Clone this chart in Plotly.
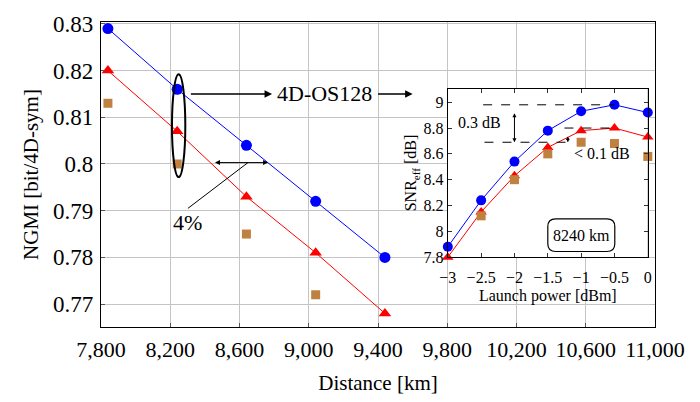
import plotly.graph_objects as go

# ---- main plot data ----
distance_km = [7840, 8240, 8640, 9040, 9440]
ngmi_blue = [0.829, 0.816, 0.804, 0.792, 0.780]
ngmi_red = [0.820, 0.807, 0.793, 0.781, 0.768]
distance_sq = [7840, 8240, 8640, 9040]
ngmi_orange = [0.813, 0.800, 0.785, 0.772]

x_ticks = [7800, 8200, 8600, 9000, 9400, 9800, 10200, 10600, 11000]
y_ticks = [0.77, 0.78, 0.79, 0.80, 0.81, 0.82, 0.83]
y_ticktext = ["0.77", "0.78", "0.79", "0.8", "0.81", "0.82", "0.83"]

# ---- inset data ----
launch_power = [-3, -2.5, -2, -1.5, -1, -0.5, 0]
snr_blue = [7.88, 8.24, 8.54, 8.78, 8.93, 8.98, 8.92]
snr_red = [7.80, 8.15, 8.43, 8.65, 8.78, 8.80, 8.73]
launch_power_sq = [-2.5, -2, -1.5, -1, -0.5, 0]
snr_orange = [8.12, 8.40, 8.60, 8.69, 8.68, 8.58]

inset_x_ticks = [-3, -2.5, -2, -1.5, -1, -0.5, 0]
inset_y_ticks = [7.8, 8.0, 8.2, 8.4, 8.6, 8.8, 9.0]
inset_y_ticktext = ["7.8", "8", "8.2", "8.4", "8.6", "8.8", "9"]

BLUE = "#0000ff"
RED = "#ff0000"
ORANGE = "#c0803f"
FONT = "Liberation Serif"

fig = go.Figure()

# main traces
fig.add_trace(go.Scatter(x=distance_km, y=ngmi_blue, mode="lines+markers",
                         line=dict(color=BLUE, width=1),
                         marker=dict(symbol="circle", size=11, color=BLUE),
                         xaxis="x", yaxis="y", cliponaxis=False))
fig.add_trace(go.Scatter(x=distance_km, y=ngmi_red, mode="lines+markers",
                         line=dict(color=RED, width=1),
                         marker=dict(symbol="triangle-up", size=11, color=RED),
                         xaxis="x", yaxis="y", cliponaxis=False))
fig.add_trace(go.Scatter(x=distance_sq, y=ngmi_orange, mode="markers",
                         marker=dict(symbol="square", size=9, color=ORANGE),
                         xaxis="x", yaxis="y", cliponaxis=False))

# inset traces
fig.add_trace(go.Scatter(x=launch_power, y=snr_blue, mode="lines+markers",
                         line=dict(color=BLUE, width=1),
                         marker=dict(symbol="circle", size=10, color=BLUE),
                         xaxis="x2", yaxis="y2", cliponaxis=False))
fig.add_trace(go.Scatter(x=launch_power, y=snr_red, mode="lines+markers",
                         line=dict(color=RED, width=1),
                         marker=dict(symbol="triangle-up", size=10, color=RED),
                         xaxis="x2", yaxis="y2", cliponaxis=False))
fig.add_trace(go.Scatter(x=launch_power_sq, y=snr_orange, mode="markers",
                         marker=dict(symbol="square", size=9, color=ORANGE),
                         xaxis="x2", yaxis="y2", cliponaxis=False))

shapes = []
annotations = []

# inset background
shapes.append(dict(type="rect", xref="x2 domain", yref="y2 domain", x0=0, x1=1, y0=0, y1=1,
                   fillcolor="#f0f0f0", line=dict(color="black", width=1.2), layer="below"))

# ellipse around 8240 km
shapes.append(dict(type="circle", xref="x", yref="y", x0=8210, x1=8287, y0=0.7972, y1=0.8192,
                   line=dict(color="black", width=2)))
# line to 4% label
shapes.append(dict(type="line", xref="x", yref="y", x0=8302, y0=0.7905, x1=8649, y1=0.8003,
                   line=dict(color="black", width=1)))

# horizontal double arrow at 0.80
annotations.append(dict(x=8765, y=0.8003, ax=8441, ay=0.8003, xref="x", yref="y", axref="x", ayref="y",
                        showarrow=True, arrowhead=2, arrowside="end+start", arrowwidth=1, arrowsize=1,
                        arrowcolor="black", text=" "))
annotations.append(dict(x=8297, y=0.7875, xref="x", yref="y", text="4%", showarrow=False,
                        font=dict(family=FONT, size=22, color="black")))

# 4D-OS128 arrows
annotations.append(dict(x=8788, y=0.815, ax=8302, ay=0.815, xref="x", yref="y", axref="x", ayref="y",
                        showarrow=True, arrowhead=2, arrowwidth=1.5, arrowsize=1, arrowcolor="black", text=" "))
annotations.append(dict(x=9090, y=0.815, xref="x", yref="y", text="4D-OS128", showarrow=False,
                        font=dict(family=FONT, size=22, color="black")))
annotations.append(dict(x=9600, y=0.815, ax=9383, ay=0.815, xref="x", yref="y", axref="x", ayref="y",
                        showarrow=True, arrowhead=2, arrowwidth=1.5, arrowsize=1, arrowcolor="black", text=" "))

# inset dashed lines
shapes.append(dict(type="line", xref="x2", yref="y2", x0=-2.47, x1=-0.5, y0=8.98, y1=8.98,
                   line=dict(color="black", width=1, dash="dash")))
shapes.append(dict(type="line", xref="x2", yref="y2", x0=-2.45, x1=-1.22, y0=8.69, y1=8.69,
                   line=dict(color="black", width=1, dash="dash")))
shapes.append(dict(type="line", xref="x2", yref="y2", x0=-1.25, x1=-0.5, y0=8.80, y1=8.80,
                   line=dict(color="black", width=1, dash="dash")))
annotations.append(dict(x=-2.0, y=8.69, ax=-2.0, ay=8.98, xref="x2", yref="y2", axref="x2", ayref="y2",
                        showarrow=True, arrowhead=2, arrowside="end+start", arrowwidth=1, arrowsize=0.8,
                        arrowcolor="black", text=" "))
annotations.append(dict(x=-1.2, y=8.69, ax=-1.2, ay=8.80, xref="x2", yref="y2", axref="x2", ayref="y2",
                        showarrow=True, arrowhead=2, arrowside="end+start", arrowwidth=1, arrowsize=0.7,
                        arrowcolor="black", text=" "))
annotations.append(dict(x=-2.52, y=8.845, xref="x2", yref="y2", text="0.3 dB", showarrow=False,
                        font=dict(family=FONT, size=16, color="black")))
annotations.append(dict(x=-0.69, y=8.60, xref="x2", yref="y2", text="&lt; 0.1 dB", showarrow=False,
                        font=dict(family=FONT, size=16, color="black")))

# rounded box for 8240 km label
bx0, bx1, by0, by1 = -1.5, -0.495, 7.844, 8.097
rx, ry = 0.12, 0.06
box_path = (f"M {bx0+rx},{by0} L {bx1-rx},{by0} Q {bx1},{by0} {bx1},{by0+ry} "
            f"L {bx1},{by1-ry} Q {bx1},{by1} {bx1-rx},{by1} L {bx0+rx},{by1} "
            f"Q {bx0},{by1} {bx0},{by1-ry} L {bx0},{by0+ry} Q {bx0},{by0} {bx0+rx},{by0} Z")
shapes.append(dict(type="path", xref="x2", yref="y2", path=box_path,
                   line=dict(color="black", width=1.2)))
annotations.append(dict(x=(bx0 + bx1) / 2, y=(by0 + by1) / 2, xref="x2", yref="y2", text="8240 km",
                        showarrow=False, font=dict(family=FONT, size=16, color="black")))

fig.update_layout(
    width=700, height=402,
    margin=dict(l=101, r=45, t=18, b=65),
    paper_bgcolor="white", plot_bgcolor="white",
    showlegend=False,
    font=dict(family=FONT, color="black"),
    shapes=shapes, annotations=annotations,
    xaxis=dict(range=[7800, 11000], tickvals=x_ticks, tickformat=",", showgrid=True,
               gridcolor="#c4c4c4", gridwidth=1, zeroline=False, showline=True, linecolor="black",
               linewidth=1.2, mirror=True, ticks="inside", ticklen=4, tickcolor="#555",
               tickfont=dict(family=FONT, size=22), ticklabelstandoff=2,
               title=dict(text="Distance [km]", font=dict(family=FONT, size=21), standoff=14)),
    yaxis=dict(range=[0.7651, 0.8304], tickvals=y_ticks, ticktext=y_ticktext, showgrid=True,
               gridcolor="#c4c4c4", gridwidth=1, zeroline=False, showline=True, linecolor="black",
               linewidth=1.2, mirror=True, ticks="inside", ticklen=4, tickcolor="#555",
               tickfont=dict(family=FONT, size=23), ticklabelstandoff=2,
               title=dict(text="NGMI [bit/4D-sym]", font=dict(family=FONT, size=21), standoff=8)),
    xaxis2=dict(domain=[0.626, 0.987], anchor="y2", range=[-3, 0], tickvals=inset_x_ticks,
                showgrid=False, zeroline=False, showline=True, linecolor="black", linewidth=1.2,
                mirror="ticks", ticks="inside", ticklen=4, tickcolor="#333",
                tickfont=dict(family=FONT, size=16), ticklabelstandoff=6,
                title=dict(text="Launch power [dBm]", font=dict(family=FONT, size=16), standoff=4)),
    yaxis2=dict(domain=[0.229, 0.781], anchor="x2", range=[7.8, 9.104], tickvals=inset_y_ticks,
                ticktext=inset_y_ticktext, showgrid=False, zeroline=False, showline=True,
                linecolor="black", linewidth=1.2, mirror="ticks", ticks="inside", ticklen=4,
                tickcolor="#333", tickfont=dict(family=FONT, size=16),
                title=dict(text="SNR<sub>eff</sub> [dB]", font=dict(family=FONT, size=16), standoff=2)),
)

fig.write_html("out.html")
